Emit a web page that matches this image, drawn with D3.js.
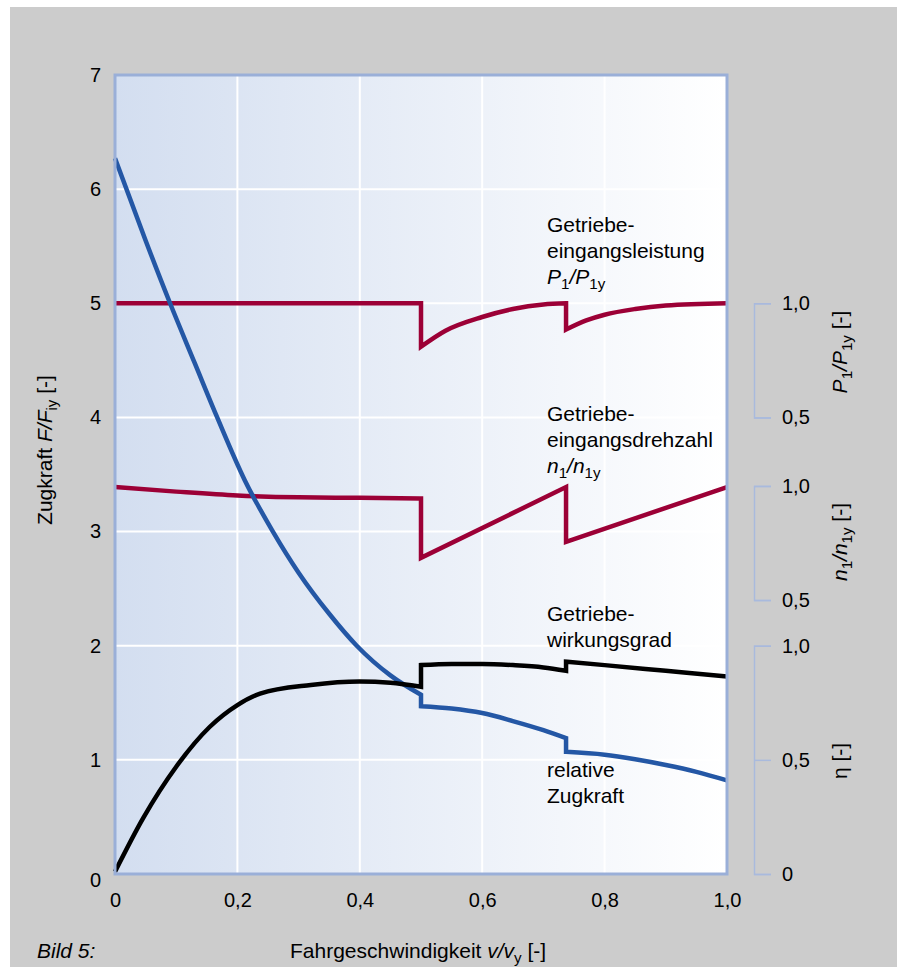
<!DOCTYPE html>
<html>
<head>
<meta charset="utf-8">
<script src="https://cdn.jsdelivr.net/npm/d3@7"></script>
<style>
  body { margin: 0; background: #fff; }
  svg { display: block; font-family: "Liberation Sans", Arial, sans-serif; }
</style>
</head>
<body>
<script>
// axis ticks
const xTicks = [0, 0.2, 0.4, 0.6, 0.8, 1.0];
const yTicks = [0, 1, 2, 3, 4, 5, 6, 7];
const xGrid = [0.2, 0.4, 0.6, 0.8];
const yGrid = [1, 2, 3, 4, 5, 6];

// relative Zugkraft F/Fiy (left axis), one array per gear
const zugkraftX = [
  [0, 0.05, 0.09, 0.13, 0.167, 0.212, 0.258, 0.3, 0.35, 0.395, 0.45, 0.5],
  [0.5, 0.55, 0.6, 0.65, 0.7, 0.737],
  [0.737, 0.8, 0.85, 0.9, 0.95, 1.0]
];
const zugkraftV = [
  [6.27, 5.55, 5.0, 4.48, 4.0, 3.45, 3.0, 2.64, 2.28, 2.0, 1.74, 1.57],
  [1.47, 1.45, 1.41, 1.34, 1.26, 1.19],
  [1.07, 1.045, 1.005, 0.955, 0.895, 0.82]
];

// Getriebe-Eingangsleistung P1/P1y
const leistungX = [
  [0, 0.5],
  [0.5, 0.54, 0.6, 0.65, 0.7, 0.737],
  [0.737, 0.77, 0.8, 0.85, 0.9, 1.0]
];
const leistungV = [
  [1.0, 1.0],
  [0.81, 0.88, 0.94, 0.975, 0.995, 1.0],
  [0.885, 0.925, 0.95, 0.975, 0.99, 1.0]
];

// Getriebe-Eingangsdrehzahl n1/n1y
const drehzahlX = [
  [0, 0.1, 0.2, 0.3, 0.4, 0.5],
  [0.5, 0.737],
  [0.737, 1.0]
];
const drehzahlV = [
  [0.995, 0.975, 0.958, 0.95, 0.948, 0.945],
  [0.685, 0.995],
  [0.755, 0.995]
];

// Getriebe-Wirkungsgrad eta
const wirkungX = [
  [0, 0.046, 0.1, 0.155, 0.2, 0.237, 0.32, 0.4, 0.45, 0.5],
  [0.5, 0.55, 0.6, 0.65, 0.7, 0.737],
  [0.737, 0.8, 0.9, 1.0]
];
const wirkungV = [
  [0.01, 0.245, 0.47, 0.645, 0.74, 0.79, 0.828, 0.843, 0.838, 0.82],
  [0.915, 0.92, 0.92, 0.915, 0.905, 0.89],
  [0.93, 0.915, 0.89, 0.865]
];

const W = 907, H = 967;
const svg = d3.select("body").append("svg").attr("width", W).attr("height", H);

svg.append("rect").attr("x", 10).attr("y", 7).attr("width", 887).attr("height", 960).attr("fill", "#cccccc");

const x = d3.scaleLinear([0, 1], [115, 727]);
const y = d3.scaleLinear([0, 7], [874, 75]);
const pScale = d3.scaleLinear([0.5, 1], [y(4), y(5)]);
const nScale = d3.scaleLinear([0.5, 1], [y(2.4), y(3.4)]);
const etaScale = d3.scaleLinear([0, 1], [y(0), y(2)]);

const fmt = d => d === 0 ? "0" : d3.format(".1f")(d).replace(".", ",");

// plot background
const grad = svg.append("defs").append("linearGradient").attr("id", "bg");
grad.append("stop").attr("offset", "0%").attr("stop-color", "#d3def0");
grad.append("stop").attr("offset", "100%").attr("stop-color", "#ffffff");

svg.append("rect")
  .attr("x", x(0)).attr("y", y(7))
  .attr("width", x(1) - x(0)).attr("height", y(0) - y(7))
  .attr("fill", "url(#bg)");

// grid
svg.append("g").selectAll("line").data(xGrid).join("line")
  .attr("x1", d => x(d)).attr("x2", d => x(d))
  .attr("y1", y(7)).attr("y2", y(0))
  .attr("stroke", "#fff").attr("stroke-width", 2);
svg.append("g").selectAll("line").data(yGrid).join("line")
  .attr("x1", x(0)).attr("x2", x(1))
  .attr("y1", d => y(d)).attr("y2", d => y(d))
  .attr("stroke", "#fff").attr("stroke-width", 2);

// one path per series, gears joined by vertical jumps
function seriesPath(xsList, vsList, scale) {
  const line = d3.line().x(d => x(d[0])).y(d => scale(d[1])).curve(d3.curveMonotoneX);
  return xsList
    .map((xs, i) => line(xs.map((xv, j) => [xv, vsList[i][j]])))
    .map((p, i) => i ? p.replace(/^M/, "L") : p)
    .join("");
}

const curves = [
  { d: seriesPath(leistungX, leistungV, pScale), color: "#9c0036" },
  { d: seriesPath(drehzahlX, drehzahlV, nScale), color: "#9c0036" },
  { d: seriesPath(zugkraftX, zugkraftV, y), color: "#2457a5" },
  { d: seriesPath(wirkungX, wirkungV, etaScale), color: "#000000" }
];
svg.append("g").selectAll("path").data(curves).join("path")
  .attr("d", d => d.d)
  .attr("fill", "none")
  .attr("stroke", d => d.color)
  .attr("stroke-width", 4.5)
  .attr("stroke-linejoin", "miter");

// plot frame
svg.append("rect")
  .attr("x", x(0)).attr("y", y(7))
  .attr("width", x(1) - x(0)).attr("height", y(0) - y(7))
  .attr("fill", "none").attr("stroke", "#9aafd8").attr("stroke-width", 3);

// left and bottom axes
const gx = svg.append("g").attr("transform", `translate(0,${y(0)})`)
  .call(d3.axisBottom(x).tickValues(xTicks).tickSize(0).tickPadding(19).tickFormat(fmt));
const gy = svg.append("g").attr("transform", `translate(${x(0)},0)`)
  .call(d3.axisLeft(y).tickValues(yTicks).tickSize(0).tickPadding(14).tickFormat(d3.format("d")));
[gx, gy].forEach(g => {
  g.select(".domain").remove();
  g.attr("font-family", null).attr("font-size", 20);
  g.selectAll("text").attr("fill", "#000");
});
// the 0 on the left axis sits a little lower, clear of the x labels
gy.selectAll(".tick").filter(d => d === 0).select("text").attr("dy", "0.62em");

// right bracket axes
[[pScale, [0.5, 1]], [nScale, [0.5, 1]], [etaScale, [0, 0.5, 1]]].forEach(([s, tv]) => {
  const g = svg.append("g").attr("transform", "translate(754,0)")
    .call(d3.axisRight(s).tickValues(tv).tickSize(17).tickPadding(11).tickFormat(fmt));
  g.attr("font-family", null).attr("font-size", 20);
  g.selectAll(".domain, line").attr("stroke", "#a9badd").attr("stroke-width", 1.5);
  g.selectAll("text").attr("fill", "#000");
});

// text with italic parts and subscripts
function rich(px, py, parts, opts = {}) {
  const t = svg.append("text").attr("x", px).attr("y", py)
    .attr("font-size", opts.size || 21).attr("fill", "#000")
    .attr("text-anchor", opts.anchor || "start");
  if (opts.rotate) t.attr("transform", `rotate(-90,${px},${py})`);
  let sub = false;
  parts.forEach(([s, k]) => {
    const ts = t.append("tspan").text(s);
    if (k === "i") ts.attr("font-style", "italic");
    if (k === "s") {
      ts.attr("font-size", "0.72em");
      if (!sub) ts.attr("dy", 5);
      sub = true;
    } else if (sub) {
      ts.attr("dy", -5);
      sub = false;
    }
  });
  return t;
}

// curve annotations
rich(547, 232, [["Getriebe-", "n"]]);
rich(547, 258, [["eingangsleistung", "n"]]);
rich(547, 284, [["P", "i"], ["1", "s"], ["/P", "i"], ["1y", "s"]]);

rich(547, 421, [["Getriebe-", "n"]]);
rich(547, 447, [["eingangsdrehzahl", "n"]]);
rich(547, 473, [["n", "i"], ["1", "s"], ["/n", "i"], ["1y", "s"]]);

rich(547, 621, [["Getriebe-", "n"]]);
rich(547, 647, [["wirkungsgrad", "n"]]);

rich(547, 777, [["relative", "n"]]);
rich(547, 803, [["Zugkraft", "n"]]);

// axis titles
rich(52, 450, [["Zugkraft ", "n"], ["F/F", "i"], ["iy", "s"], [" [-]", "n"]], { rotate: true, anchor: "middle" });
rich(290, 958, [["Fahrgeschwindigkeit ", "n"], ["v/v", "i"], ["y", "s"], [" [-]", "n"]]);
rich(37, 958, [["Bild 5:", "i"]]);

rich(847, 352, [["P", "i"], ["1", "s"], ["/P", "i"], ["1y", "s"], [" [-]", "n"]], { rotate: true, anchor: "middle" });
rich(847, 542, [["n", "i"], ["1", "s"], ["/n", "i"], ["1y", "s"], [" [-]", "n"]], { rotate: true, anchor: "middle" });
rich(847, 761, [["η [-]", "n"]], { rotate: true, anchor: "middle" });
</script>
</body>
</html>
